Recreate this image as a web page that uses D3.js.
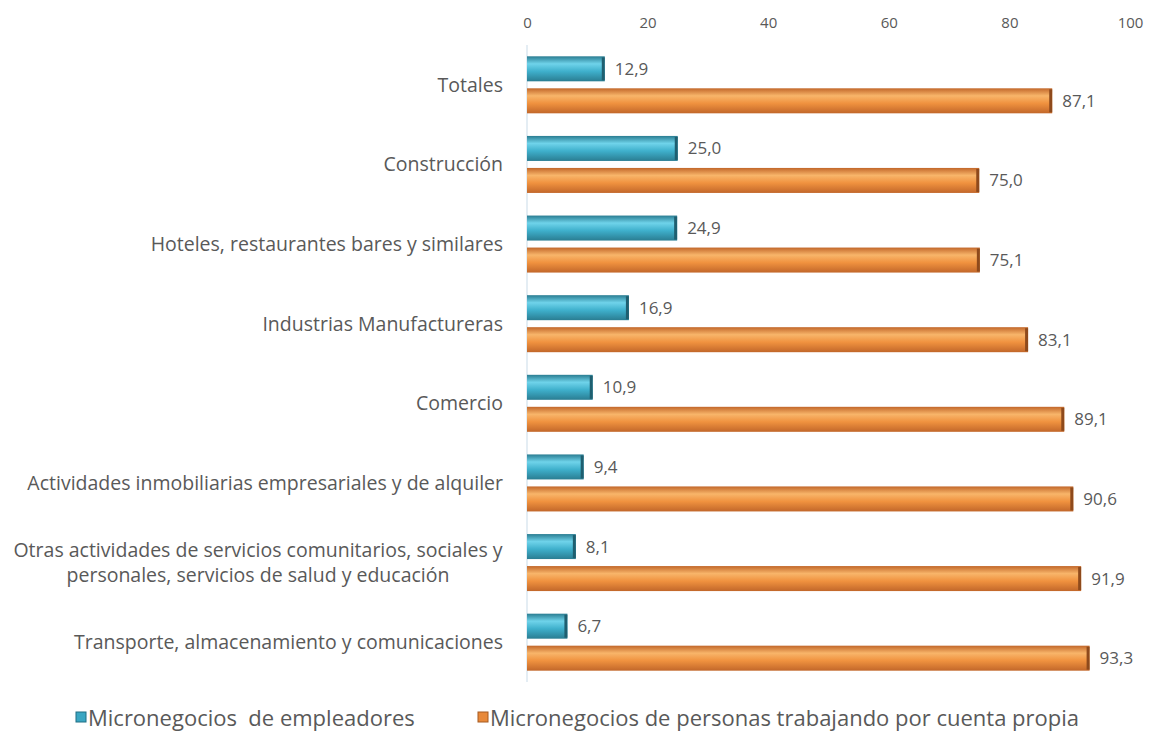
<!DOCTYPE html>
<html>
<head>
<meta charset="utf-8">
<script src="https://cdn.jsdelivr.net/npm/d3@7"></script>
<style>
  body { margin: 0; background: #fff; }
  text { font-family: "Open Sans", sans-serif; fill: #595959; }
</style>
</head>
<body>
<script>
// Chart data
let categories = [
    "Totales",
    "Construcción",
    "Hoteles, restaurantes bares y similares",
    "Industrias Manufactureras",
    "Comercio",
    "Actividades inmobiliarias empresariales y de alquiler",
    "Otras actividades de servicios comunitarios, sociales y|personales, servicios de salud y educación",
    "Transporte, almacenamiento y comunicaciones"
];
let empleadores = [12.9, 25.0, 24.9, 16.9, 10.9, 9.4, 8.1, 6.7];
let cuentaPropia = [87.1, 75.0, 75.1, 83.1, 89.1, 90.6, 91.9, 93.3];
let seriesNames = ["Micronegocios  de empleadores", "Micronegocios de personas trabajando por cuenta propia"];
let xTicks = [0, 20, 40, 60, 80, 100];

let svgWidth = 1149;
let svgHeight = 734;

let svg = d3.select("body")
    .append("svg")
    .attr("width", svgWidth)
    .attr("height", svgHeight);

// Gradients for the bevelled bar look
let defs = svg.append("defs");
function makeGradient(id, dark, mid, light) {
    let g = defs.append("linearGradient")
        .attr("id", id)
        .attr("x1", 0).attr("y1", 0).attr("x2", 0).attr("y2", 1);
    g.append("stop").attr("offset", "0%").attr("stop-color", dark);
    g.append("stop").attr("offset", "30%").attr("stop-color", light);
    g.append("stop").attr("offset", "60%").attr("stop-color", mid);
    g.append("stop").attr("offset", "100%").attr("stop-color", dark);
}
makeGradient("gradBlue", "#2a7d92", "#3fb0cc", "#6fd3ea");
makeGradient("gradOrange", "#c2672a", "#f0923f", "#f8b56a");

let xScale = d3.scaleLinear()
    .domain([0, 100])
    .range([527, 1130]);

let yScale = d3.scaleBand()
    .domain(d3.range(categories.length))
    .range([45, 682])
    .paddingInner(0)
    .paddingOuter(0);

let barH = 25;
let gap = 7;

// Top axis
let xAxis = d3.axisTop(xScale)
    .tickValues(xTicks)
    .tickSize(0)
    .tickPadding(0);

let axisG = svg.append("g")
    .attr("transform", "translate(0, 28)")
    .call(xAxis);
axisG.select(".domain").remove();
axisG.selectAll("text")
    .style("font-size", "15px")
    .style("font-family", "'Open Sans', sans-serif")
    .attr("fill", "#595959");

// Vertical baseline
svg.append("line")
    .attr("x1", xScale(0)).attr("x2", xScale(0))
    .attr("y1", 45).attr("y2", 682)
    .attr("stroke", "#c9dbe8")
    .attr("stroke-width", 1);

// Category labels
let labelG = svg.append("g");
categories.forEach(function(cat, i) {
    let cy = yScale(i) + yScale.bandwidth() / 2;
    let lines = cat.split("|");
    let t = labelG.append("text")
        .attr("text-anchor", "end")
        .style("font-size", "19.5px");
    if (lines.length === 1) {
        t.attr("x", 503).attr("y", cy).attr("dy", "0.35em").text(cat);
    } else {
        t.attr("text-anchor", "middle");
        lines.forEach(function(l, j) {
            t.append("tspan")
                .attr("x", 258)
                .attr("y", cy + (j - 0.5) * 25)
                .attr("dy", "0.35em")
                .text(l);
        });
    }
});

// Draw bar series
function drawSeries(values, offset, grad, capColor) {
    let g = svg.append("g");
    values.forEach(function(v, i) {
        let y = yScale(i) + yScale.bandwidth() / 2 + offset;
        g.append("rect")
            .attr("x", xScale(0))
            .attr("y", y)
            .attr("width", xScale(v) - xScale(0))
            .attr("height", barH)
            .attr("fill", "url(#" + grad + ")");
        g.append("rect")
            .attr("x", xScale(v) - 3)
            .attr("y", y + 1)
            .attr("width", 3)
            .attr("height", barH - 2)
            .attr("fill", capColor);
        g.append("text")
            .attr("x", xScale(v) + 10)
            .attr("y", y + barH / 2)
            .attr("dy", "0.35em")
            .style("font-size", "17px")
            .text(v.toFixed(1).replace(".", ","));
    });
}
drawSeries(empleadores, -barH - gap / 2, "gradBlue", "#1f5f70");
drawSeries(cuentaPropia, gap / 2, "gradOrange", "#8e4a1c");

// Legend
let legend = svg.append("g");
let legendItems = [
    { x: 76, name: seriesNames[0], fill: "#3aa6c2", stroke: "#1f6f84" },
    { x: 478, name: seriesNames[1], fill: "#e8893a", stroke: "#a65a20" }
];
legendItems.forEach(function(d) {
    legend.append("rect")
        .attr("x", d.x)
        .attr("y", 712)
        .attr("width", 10)
        .attr("height", 10)
        .attr("fill", d.fill)
        .attr("stroke", d.stroke);
    legend.append("text")
        .attr("x", d.x + 12)
        .attr("y", 718)
        .attr("dy", "0.35em")
        .style("font-size", "22px")
        .attr("xml:space", "preserve")
        .style("white-space", "pre")
        .text(d.name);
});
</script>
</body>
</html>
